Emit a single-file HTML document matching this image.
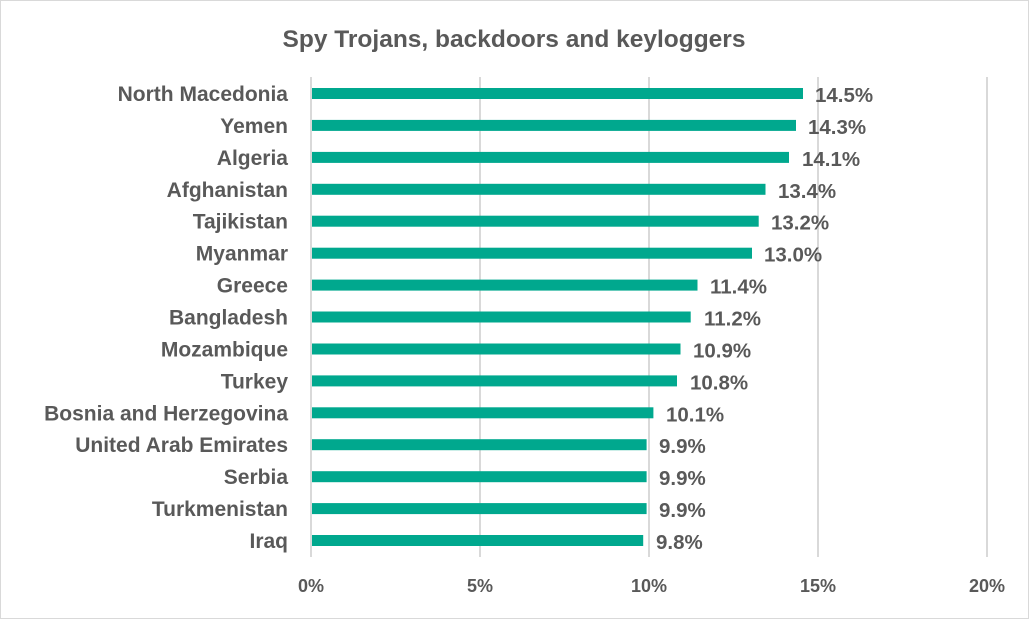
<!DOCTYPE html>
<html><head><meta charset="utf-8"><style>body{margin:0;background:#fff}</style></head><body>
<svg width="1029" height="619" xmlns="http://www.w3.org/2000/svg" font-family="Liberation Sans, sans-serif" font-weight="bold">
<rect x="0.5" y="0.5" width="1028" height="618" fill="#fff" stroke="#d9d9d9"/>
<text x="514" y="47" text-anchor="middle" font-size="24.5" fill="#595959">Spy Trojans, backdoors and keyloggers</text>
<g stroke="#d9d9d9" stroke-width="2">
<line x1="311" y1="77" x2="311" y2="557"/><line x1="480" y1="77" x2="480" y2="557"/>
<line x1="649" y1="77" x2="649" y2="557"/><line x1="818" y1="77" x2="818" y2="557"/>
<line x1="987" y1="77" x2="987" y2="557"/>
</g>
<g font-size="18" fill="#595959" text-anchor="middle">
<text x="311" y="592">0%</text><text x="480" y="592">5%</text><text x="649" y="592">10%</text><text x="818" y="592">15%</text><text x="987" y="592">20%</text>
</g>
<g fill="#00A88E">
<rect x="312" y="88" width="491" height="11"/>
<rect x="312" y="119.9" width="484" height="11"/>
<rect x="312" y="151.9" width="477" height="11"/>
<rect x="312" y="183.8" width="453.5" height="11"/>
<rect x="312" y="215.7" width="446.7" height="11"/>
<rect x="312" y="247.7" width="440" height="11"/>
<rect x="312" y="279.6" width="385.5" height="11"/>
<rect x="312" y="311.5" width="378.7" height="11"/>
<rect x="312" y="343.5" width="368.5" height="11"/>
<rect x="312" y="375.4" width="365" height="11"/>
<rect x="312" y="407.3" width="341.4" height="11"/>
<rect x="312" y="439.2" width="334.6" height="11"/>
<rect x="312" y="471.2" width="334.6" height="11"/>
<rect x="312" y="503.1" width="334.6" height="11"/>
<rect x="312" y="535" width="331.2" height="11"/>
</g>
<g font-size="21" fill="#595959" text-anchor="end">
<text x="288" y="101">North Macedonia</text>
<text x="288" y="132.9">Yemen</text>
<text x="288" y="164.9">Algeria</text>
<text x="288" y="196.8">Afghanistan</text>
<text x="288" y="228.7">Tajikistan</text>
<text x="288" y="260.7">Myanmar</text>
<text x="288" y="292.6">Greece</text>
<text x="288" y="324.5">Bangladesh</text>
<text x="288" y="356.5">Mozambique</text>
<text x="288" y="388.4">Turkey</text>
<text x="288" y="420.3">Bosnia and Herzegovina</text>
<text x="288" y="452.2">United Arab Emirates</text>
<text x="288" y="484.2">Serbia</text>
<text x="288" y="516.1">Turkmenistan</text>
<text x="288" y="548">Iraq</text>
</g>
<g font-size="20.5" fill="#595959">
<text x="815" y="102">14.5%</text>
<text x="808" y="133.9">14.3%</text>
<text x="802" y="165.9">14.1%</text>
<text x="778" y="197.8">13.4%</text>
<text x="771" y="229.7">13.2%</text>
<text x="764" y="261.7">13.0%</text>
<text x="710" y="293.6">11.4%</text>
<text x="704" y="325.5">11.2%</text>
<text x="693" y="357.5">10.9%</text>
<text x="690" y="389.4">10.8%</text>
<text x="666" y="421.3">10.1%</text>
<text x="659" y="453.2">9.9%</text>
<text x="659" y="485.2">9.9%</text>
<text x="659" y="517.1">9.9%</text>
<text x="656" y="549">9.8%</text>
</g>
</svg>
</body></html>
